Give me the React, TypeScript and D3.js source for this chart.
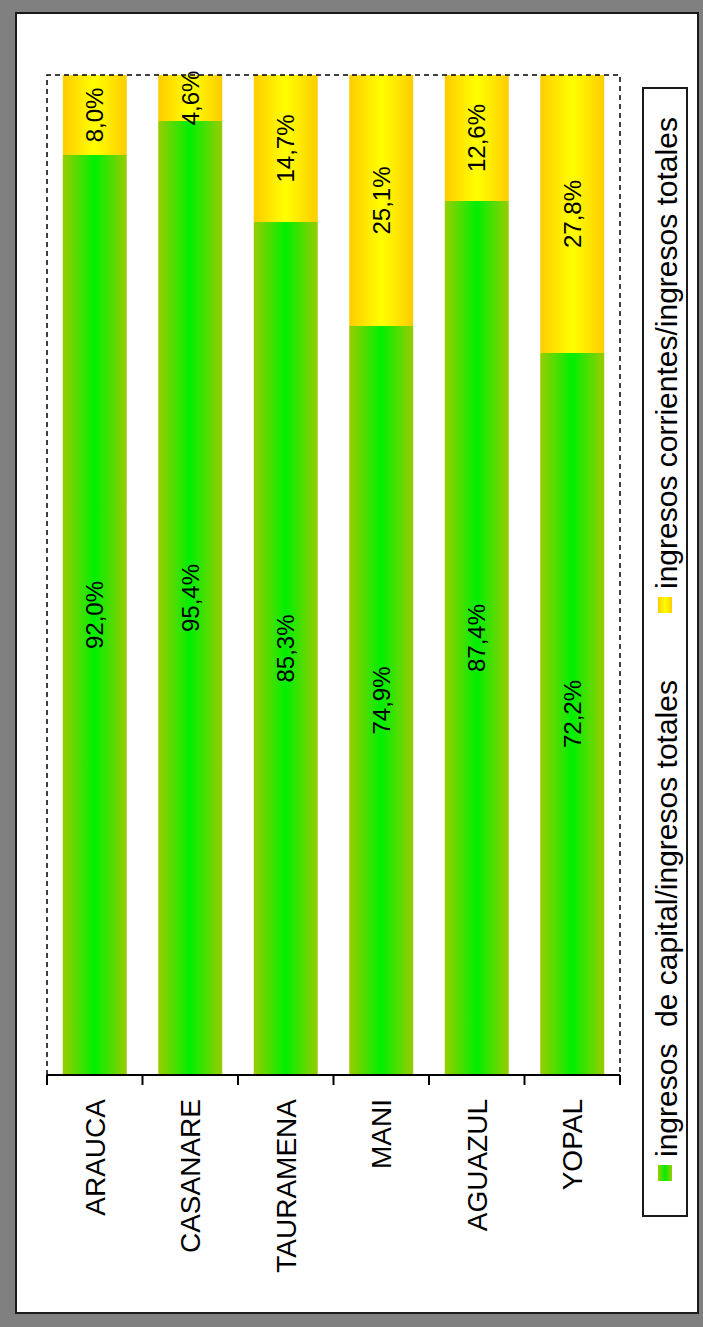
import * as d3 from 'd3'

const categories = ['ARAUCA', 'CASANARE', 'TAURAMENA', 'MANI', 'AGUAZUL', 'YOPAL']
const capital = [92.0, 95.4, 85.3, 74.9, 87.4, 72.2]
const corrientes = [8.0, 4.6, 14.7, 25.1, 12.6, 27.8]
const seriesNames = ['ingresos  de capital/ingresos totales', 'ingresos corrientes/ingresos totales']
const keys = ['capital', 'corrientes']

const W = 703
const H = 1327
const plot = { left: 47, right: 620, top: 75, bottom: 1075 }

const fmt = (v: number) => v.toFixed(1).replace('.', ',') + '%'

const rows = categories.map((c, i) => ({ cat: c, capital: capital[i], corrientes: corrientes[i] }))

export default function App() {
  const x = d3.scaleBand<string>()
    .domain(categories)
    .range([plot.left, plot.right])
    .paddingInner(0.33)
    .paddingOuter(0.165)
  const y = d3.scaleLinear().domain([0, 100]).range([plot.bottom, plot.top])
  const stacked = d3.stack<any>().keys(keys)(rows)
  const step = x.step()
  const ticks = d3.range(categories.length + 1).map(i => plot.left + i * step)
  const font = "'Liberation Sans', Arial, sans-serif"

  return (
    <svg width={W} height={H} style={{ position: 'absolute', left: 0, top: 0 }} fontFamily={font}>
      <defs>
        <linearGradient id="g0" x1="0" x2="1" y1="0" y2="0">
          <stop offset="0" stopColor="#99cc00" />
          <stop offset="0.5" stopColor="#00f000" />
          <stop offset="1" stopColor="#99cc00" />
        </linearGradient>
        <linearGradient id="g1" x1="0" x2="1" y1="0" y2="0">
          <stop offset="0" stopColor="#ffcc00" />
          <stop offset="0.5" stopColor="#ffff00" />
          <stop offset="1" stopColor="#ffcc00" />
        </linearGradient>
      </defs>
      <rect x={0} y={0} width={W} height={H} fill="#808080" />
      <rect x={16} y={13} width={682} height={1300} fill="#fff" stroke="#1a1a1a" strokeWidth={2} />

      {stacked.map((s, si) => (
        <g key={s.key}>
          {s.map((d, i) => (
            <rect key={i}
              x={x(categories[i])}
              width={x.bandwidth()}
              y={y(d[1])}
              height={y(d[0]) - y(d[1])}
              fill={`url(#g${si})`} />
          ))}
        </g>
      ))}

      {stacked.map((s, si) => (
        <g key={'l' + s.key}>
          {s.map((d, i) => {
            const cx = (x(categories[i]) as number) + x.bandwidth() / 2
            const cy = (y(d[0]) + y(d[1])) / 2
            return (
              <text key={i} transform={`translate(${cx},${cy}) rotate(-90)`}
                textAnchor="middle" dy="0.35em" fontSize={24} fill="#000">
                {fmt(d[1] - d[0])}
              </text>
            )
          })}
        </g>
      ))}

      <path d={`M${plot.left},${plot.bottom}V${plot.top}H${plot.right}V${plot.bottom}`}
        fill="none" stroke="#000" strokeWidth={1.5} strokeDasharray="5,4" />
      <line x1={plot.left} x2={plot.right} y1={plot.bottom} y2={plot.bottom} stroke="#000" strokeWidth={2} />
      {ticks.map((t, i) => (
        <line key={i} x1={t} x2={t} y1={plot.bottom} y2={plot.bottom + 10} stroke="#000" strokeWidth={2} />
      ))}
      {categories.map(c => (
        <text key={c}
          transform={`translate(${(x(c) as number) + x.bandwidth() / 2},${plot.bottom + 24}) rotate(-90)`}
          textAnchor="end" dy="0.35em" fontSize={28} fill="#000">
          {c}
        </text>
      ))}

      <rect x={643} y={88} width={44} height={1128} fill="none" stroke="#1a1a1a" strokeWidth={2} />
      {seriesNames.map((n, i) => {
        const sy = i === 0 ? 1165 : 597
        return (
          <g key={n}>
            <rect x={658} y={sy} width={14} height={16} fill={`url(#g${i})`} />
            <text transform={`translate(666,${sy - 8}) rotate(-90)`} dy="0.35em"
              fontSize={30} fill="#000" style={{ whiteSpace: 'pre' }}>
              {n}
            </text>
          </g>
        )
      })}
    </svg>
  )
}
